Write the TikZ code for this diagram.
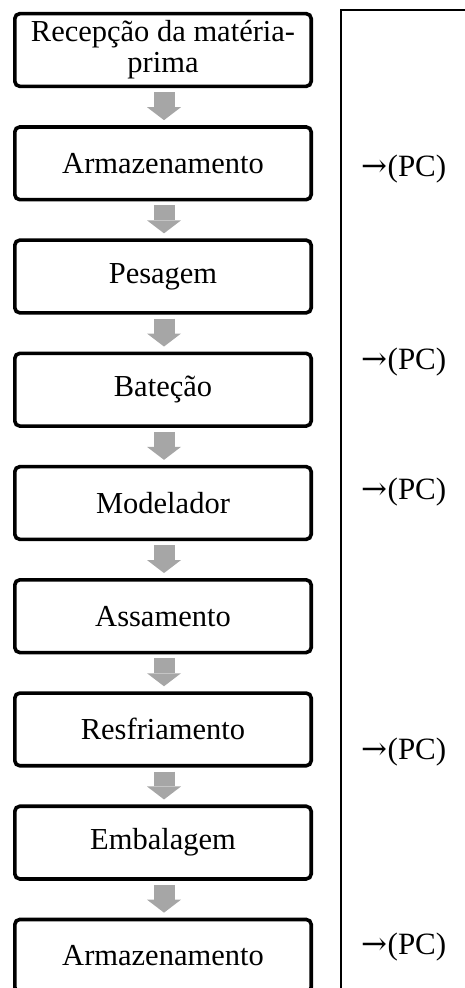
\documentclass[tikz,border=0pt]{standalone}
\usepackage{fontspec}
\setmainfont{Liberation Serif}
\newfontfamily\arrowfont{DejaVu Serif}
\usetikzlibrary{arrows.meta}
\definecolor{flowgray}{RGB}{166,166,166}
\newcommand{\pcmark}{{\arrowfont\fontsize{31}{31}\selectfont →}\kern0.5pt(PC)}
\begin{document}
\begin{tikzpicture}[x=1pt,y=-1pt,
  stage/.style={draw=black, line width=3.6pt, rounded corners=5pt,
    minimum width=296.4pt, minimum height=72.7pt, inner sep=0pt,
    align=center, font=\fontsize{30.5}{31}\selectfont},
  flow/.style={draw=flowgray, line width=21pt,
    -{Triangle[width=34pt,length=13pt,line width=0pt]}},
  pc/.style={anchor=west, inner sep=0pt, font=\fontsize{31}{32}\selectfont},
  cellframe/.style={draw=black, line width=1.1pt}]
  \useasboundingbox (0,0) rectangle (465,988);
  \clip (0,0) rectangle (465,988);

  % process steps
  \node[stage] (s1) at (163,50)    {Recepção da matéria-\\prima};
  \node[stage] (s2) at (163,163.3) {Armazenamento};
  \node[stage] (s3) at (163,276.5) {Pesagem};
  \node[stage] (s4) at (163,389.7) {Bateção};
  \node[stage] (s5) at (163,503)   {Modelador};
  \node[stage] (s6) at (163,616.2) {Assamento};
  \node[stage] (s7) at (163,729.4) {Resfriamento};
  \node[stage] (s8) at (163,842.6) {Embalagem};
  \node[stage] (s9) at (163,955.8) {Armazenamento};

  % block arrows between steps
  \foreach \a/\b in {s1/s2,s2/s3,s3/s4,s4/s5,s5/s6,s6/s7,s7/s8,s8/s9}
    \draw[flow] ([xshift=1pt,yshift=-4pt]\a.south) -- ([xshift=1pt,yshift=5pt]\b.north);

  % control-point column border
  \coordinate (ctop) at (341,10);
  \coordinate (cbot) at (341,1000);
  \coordinate (cright) at (470,10);
  \draw[cellframe] (cbot) -- (ctop) -- (cright);

  % control points
  \node[pc] (p1) at (361,169)   {\pcmark};
  \node[pc] (p2) at (361,362.5) {\pcmark};
  \node[pc] (p3) at (361,492.5) {\pcmark};
  \node[pc] (p4) at (361,752.5) {\pcmark};
  \node[pc] (p5) at (361,947)   {\pcmark};
\end{tikzpicture}
\end{document}
